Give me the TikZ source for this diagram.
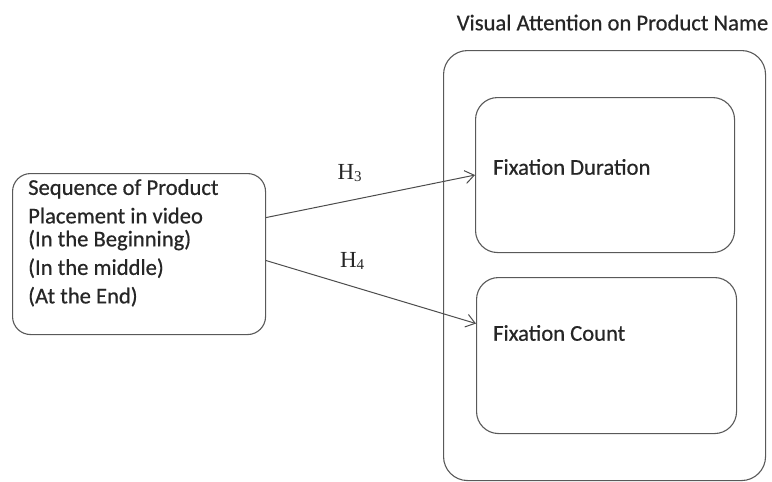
\documentclass[tikz,border=0pt]{standalone}
\usepackage{fontspec}
\setmainfont{Carlito}
\newfontfamily\boxfont{Carlito}[FakeBold=0.6]
\newfontfamily\hfont{Liberation Serif}
\usetikzlibrary{positioning, calc, arrows.meta}

\newcommand{\hyplabel}[1]{{\hfont\fontsize{23}{23}\selectfont H\raisebox{-2pt}{\fontsize{15}{15}\selectfont #1}}}

\begin{document}
\begin{tikzpicture}[x=1pt, y=-1pt, auto,
		box/.style={draw=black!65, line width=1.1pt, rectangle, anchor=north west},
		hyp/.style={draw=black!70, line width=1pt, -{Straight Barb[length=9pt, width=13pt]}},
		every node/.style={text=black!85, font=\boxfont\fontsize{22.6}{28.5}\selectfont}]
		\useasboundingbox (0,0) rectangle (772,482);
		\node[box, rounded corners=24pt, minimum width=322pt, minimum height=430pt, label={[label distance=16pt, xshift=8pt] north:Visual Attention on Product Name}] (vis) at (443,50) {};
		\node[box, rounded corners=22pt, minimum width=259pt, minimum height=155pt] (dur) at (475,97) {};
		\node[box, rounded corners=22pt, minimum width=260pt, minimum height=156pt] (cnt) at (476,277) {};
		\node[box, rounded corners=18pt, minimum width=253pt, minimum height=161pt] (seq) at (12,173) {};
		\node[anchor=north west, align=left, inner sep=0pt] (seq_txt) at (28,179) {Sequence of Product\\ Placement in video\\[-5.5pt] (In the Beginning)\\ (In the middle)\\ (At the End)};
		\node[anchor=west, inner sep=0pt] (dur_txt) at (493,167) {Fixation Duration};
		\node[anchor=west, inner sep=0pt] (cnt_txt) at (493,333) {Fixation Count};
		\draw[hyp] ($(seq.east) + (0, 36.5pt)$) -- node[pos=0.4, above=18pt, inner sep=0pt] {\hyplabel{3}} (dur.west);
		\draw[hyp] ($(seq.east) + (0, -6.5pt)$) -- node[pos=0.41, above=16pt, inner sep=0pt] {\hyplabel{4}} ($(cnt.west) + (0, 32pt)$);
	\end{tikzpicture}
\end{document}
